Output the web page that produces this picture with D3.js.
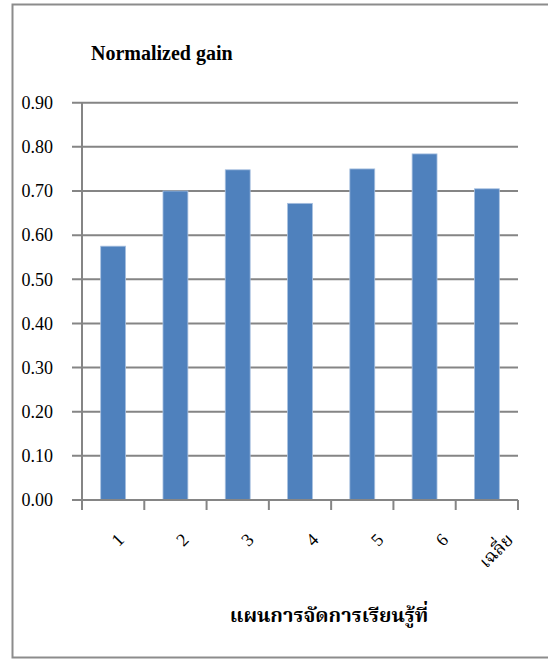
<!DOCTYPE html>
<html>
<head>
<meta charset="utf-8">
<script src="https://cdn.jsdelivr.net/npm/d3@7"></script>
<style>
    body { margin: 0; background: #fff; }
    svg { display: block; }
    .tick-label { font-family: "Liberation Serif", "Times New Roman", "Noto Serif Thai", serif; font-size: 18px; fill: #000; }
    .title { font-family: "Liberation Serif", "Times New Roman", serif; font-size: 20px; font-weight: bold; }
    .axis-title { font-family: "Noto Serif Thai", "Noto Sans Thai Looped", "Noto Sans Thai", "Tahoma", serif; font-size: 20px; font-weight: bold; }
</style>
</head>
<body>
<div id="chart"></div>
<script>
// data
const categories = ['1', '2', '3', '4', '5', '6', 'เฉลี่ย'];
const gains = [0.575, 0.700, 0.748, 0.672, 0.750, 0.784, 0.705];
const yTicks = [0.0, 0.1, 0.2, 0.3, 0.4, 0.5, 0.6, 0.7, 0.8, 0.9];

const width = 548, height = 659;
const plot = { left: 82, right: 518, top: 102.7, bottom: 500 };

const svg = d3.select('#chart')
    .append('svg')
    .attr('width', width)
    .attr('height', height);

// outer frame (right edge is cut off in the original)
svg.append('rect')
    .attr('x', 12.5).attr('y', 4.5)
    .attr('width', 560).attr('height', 653)
    .attr('fill', 'none')
    .attr('stroke', '#8c8c8c')
    .attr('stroke-width', 2);

const x = d3.scaleBand()
    .domain(categories)
    .range([plot.left, plot.right])
    .paddingInner(0.6)
    .paddingOuter(0.3);

const y = d3.scaleLinear()
    .domain([0, 0.9])
    .range([plot.bottom, plot.top]);

// gridlines + y tick labels
const yAxis = svg.append('g').attr('class', 'y-axis');
yAxis.selectAll('line')
    .data(yTicks)
    .enter()
    .append('line')
    .attr('x1', plot.left - 10)
    .attr('x2', plot.right)
    .attr('y1', d => y(d))
    .attr('y2', d => y(d))
    .attr('stroke', '#858585')
    .attr('stroke-width', 2);

yAxis.selectAll('text')
    .data(yTicks)
    .enter()
    .append('text')
    .attr('class', 'tick-label')
    .attr('x', 53)
    .attr('y', d => y(d))
    .attr('dy', '0.35em')
    .attr('text-anchor', 'end')
    .text(d => d3.format('.2f')(d));

// bars
svg.append('g')
    .selectAll('rect')
    .data(gains)
    .enter()
    .append('rect')
    .attr('x', (d, i) => x(categories[i]))
    .attr('y', d => y(d))
    .attr('width', x.bandwidth())
    .attr('height', d => y(0) - y(d))
    .attr('fill', '#4f81bd')
    .attr('stroke', '#a9c1e0')
    .attr('stroke-width', 0.8);

// axes lines
svg.append('line')
    .attr('x1', plot.left).attr('x2', plot.left)
    .attr('y1', plot.top).attr('y2', plot.bottom + 10)
    .attr('stroke', '#858585').attr('stroke-width', 2);

svg.append('line')
    .attr('x1', plot.left - 10).attr('x2', plot.right)
    .attr('y1', plot.bottom).attr('y2', plot.bottom)
    .attr('stroke', '#858585').attr('stroke-width', 2);

// x tick marks at category boundaries
const step = x.step();
const bounds = d3.range(categories.length + 1).map(i => plot.left + i * step);
svg.append('g')
    .selectAll('line')
    .data(bounds)
    .enter()
    .append('line')
    .attr('x1', d => d).attr('x2', d => d)
    .attr('y1', plot.bottom).attr('y2', plot.bottom + 10)
    .attr('stroke', '#858585').attr('stroke-width', 2);

// rotated category labels (Excel drifts them slightly right across the axis)
svg.append('g')
    .selectAll('text')
    .data(categories)
    .enter()
    .append('text')
    .attr('class', 'tick-label')
    .attr('text-anchor', 'end')
    .attr('transform', (d, i) => `translate(${x(d) + x.bandwidth() / 2 + 3 + 2.6 * i},532) rotate(-45)`)
    .attr('dy', '0.7em')
    .text(d => d);

// chart title
svg.append('text')
    .attr('class', 'title')
    .attr('x', 91)
    .attr('y', 60)
    .text('Normalized gain');

// axis title
svg.append('text')
    .attr('class', 'axis-title')
    .attr('x', 329)
    .attr('y', 622)
    .attr('text-anchor', 'middle')
    .text('แผนการจัดการเรียนรู้ที่');
</script>
</body>
</html>
